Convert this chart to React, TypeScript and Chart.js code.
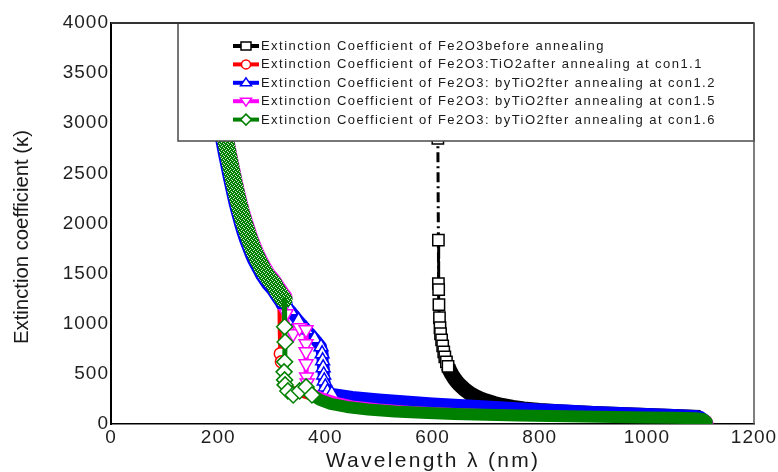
import { useEffect, useRef } from "react";
import { Chart, registerables } from "chart.js";

Chart.register(...registerables);

// Axis ticks
const xTicks = [0, 200, 400, 600, 800, 1000, 1200];
const yTicks = [0, 500, 1000, 1500, 2000, 2500, 3000, 3500, 4000];

// Series labels
const labelBefore = "Extinction Coefficient of Fe2O3before annealing";
const labelCon11 = "Extinction Coefficient of Fe2O3:TiO2after annealing at con1.1";
const labelCon12 = "Extinction Coefficient of Fe2O3: byTiO2fter annealing at con1.2";
const labelCon15 = "Extinction Coefficient of Fe2O3: byTiO2fter annealing at con1.5";
const labelCon16 = "Extinction Coefficient of Fe2O3: byTiO2fter annealing at con1.6";

// Fe2O3 before annealing
const beforeWl = [606, 608, 609, 610, 611, 611, 611.5, 612, 613, 614, 615, 617, 619, 621, 623, 626, 629, 632, 636, 640, 645, 650, 660, 670, 680, 690, 700, 715, 730, 750, 770, 800, 850, 900, 950, 1000, 1050, 1100];
const beforeK = [6000, 4200, 3400, 2850, 1835, 1400, 1340, 1190, 1060, 960, 900, 840, 780, 720, 670, 620, 575, 535, 495, 460, 425, 395, 345, 305, 275, 250, 230, 205, 185, 165, 150, 135, 118, 105, 95, 85, 75, 65];

// con 1.1
const con11Wl = [170, 180, 185, 190, 195, 200, 205, 210, 215, 220, 225, 230, 235, 240, 245, 250, 255, 260, 265, 270, 275, 280, 285, 290, 295, 300, 305, 310, 312, 314, 315, 315, 316, 318, 322, 330, 345, 370, 400, 450, 500, 600, 700, 800, 900, 1000, 1100, 1110];
const con11K = [4850, 4230, 3980, 3730, 3510, 3310, 3130, 2960, 2820, 2680, 2550, 2420, 2300, 2190, 2090, 2000, 1920, 1840, 1770, 1700, 1640, 1590, 1540, 1500, 1460, 1430, 1395, 1355, 1320, 1300, 1100, 900, 700, 620, 500, 400, 330, 290, 240, 190, 160, 120, 100, 88, 78, 68, 58, 30];

// con 1.2
const con12Wl = [170, 180, 185, 190, 195, 200, 205, 210, 215, 220, 225, 230, 235, 240, 245, 250, 255, 260, 265, 270, 275, 280, 285, 290, 295, 300, 305, 310, 315, 320, 323, 335, 350, 365, 380, 392, 394, 395, 396, 397, 398, 400, 404, 412, 425, 450, 500, 550, 600, 650, 700, 750, 800, 850, 900, 950, 1000, 1050, 1090, 1100, 1108];
const con12K = [4650, 4080, 3830, 3590, 3370, 3180, 3000, 2850, 2710, 2580, 2450, 2330, 2210, 2110, 2010, 1920, 1840, 1770, 1700, 1640, 1590, 1540, 1490, 1450, 1410, 1380, 1350, 1310, 1270, 1230, 1200, 1130, 1030, 940, 850, 770, 700, 630, 560, 490, 430, 370, 320, 300, 290, 270, 245, 225, 205, 190, 175, 160, 145, 135, 120, 110, 100, 90, 80, 70, 40];

// con 1.5
const con15Wl = [170, 180, 185, 190, 195, 200, 205, 210, 215, 220, 225, 230, 235, 240, 245, 250, 255, 260, 265, 270, 275, 280, 285, 290, 295, 300, 305, 310, 315, 320, 324, 327, 330, 340, 352, 364, 364, 364, 364, 365, 366, 380, 400, 425, 450, 500, 560, 620, 680, 740, 800, 860, 920, 980, 1040, 1090, 1106, 1113, 1116];
const con15K = [4870, 4250, 4000, 3750, 3530, 3320, 3140, 2980, 2840, 2700, 2570, 2440, 2320, 2210, 2110, 2020, 1935, 1855, 1785, 1720, 1660, 1610, 1560, 1515, 1475, 1445, 1410, 1370, 1330, 1290, 1265, 1100, 940, 900, 960, 940, 800, 720, 600, 470, 410, 300, 260, 220, 190, 160, 135, 120, 108, 98, 90, 84, 78, 73, 68, 62, 55, 40, 10];

// con 1.6
const con16Wl = [170, 180, 185, 190, 195, 200, 205, 210, 215, 220, 225, 230, 235, 240, 245, 250, 255, 260, 265, 270, 275, 280, 285, 290, 295, 300, 305, 310, 315, 320, 323, 324, 324, 325, 324, 323, 324, 325, 330, 340, 352, 364, 375, 390, 410, 440, 480, 530, 580, 640, 700, 760, 820, 880, 940, 1000, 1050, 1090, 1105, 1112];
const con16K = [4800, 4200, 3950, 3700, 3480, 3280, 3100, 2940, 2800, 2660, 2530, 2400, 2280, 2170, 2070, 1980, 1900, 1820, 1750, 1690, 1630, 1580, 1530, 1490, 1450, 1420, 1390, 1340, 1300, 1260, 1240, 1100, 970, 818, 620, 520, 440, 390, 330, 290, 330, 370, 290, 240, 200, 170, 145, 125, 112, 100, 92, 85, 80, 75, 70, 66, 62, 58, 50, 20];

const BLACK = "#000000";
const RED = "#ff0000";
const BLUE = "#0000ff";
const MAGENTA = "#ff00ff";
const GREEN = "#008000";
const FONT = "'Liberation Sans', Arial, sans-serif";

const toPoints = (wl: number[], k: number[]) => wl.map((x, i) => ({ x, y: k[i] }));

type MarkerKind = "rect" | "circle" | "triangle" | "triangleDown" | "rectRot";

const legendEntries: { label: string; color: string; marker: MarkerKind }[] = [
  { label: labelBefore, color: BLACK, marker: "rect" },
  { label: labelCon11, color: RED, marker: "circle" },
  { label: labelCon12, color: BLUE, marker: "triangle" },
  { label: labelCon15, color: MAGENTA, marker: "triangleDown" },
  { label: labelCon16, color: GREEN, marker: "rectRot" },
];

function drawMarker(ctx: CanvasRenderingContext2D, kind: MarkerKind, x: number, y: number, color: string) {
  ctx.beginPath();
  if (kind === "rect") {
    ctx.rect(x - 5, y - 4, 10, 8);
  } else if (kind === "circle") {
    ctx.arc(x, y, 4.5, 0, Math.PI * 2);
  } else if (kind === "triangle") {
    ctx.moveTo(x, y - 5);
    ctx.lineTo(x + 5.5, y + 3);
    ctx.lineTo(x - 5.5, y + 3);
    ctx.closePath();
  } else if (kind === "triangleDown") {
    ctx.moveTo(x, y + 5);
    ctx.lineTo(x + 5.5, y - 3);
    ctx.lineTo(x - 5.5, y - 3);
    ctx.closePath();
  } else {
    ctx.moveTo(x, y - 5.5);
    ctx.lineTo(x + 5.5, y);
    ctx.lineTo(x, y + 5.5);
    ctx.lineTo(x - 5.5, y);
    ctx.closePath();
  }
  ctx.fillStyle = "#ffffff";
  ctx.fill();
  ctx.lineWidth = 1.5;
  ctx.strokeStyle = color;
  ctx.stroke();
}

// speckled green used where the diamond markers pile up into a band
function makeHatch(): CanvasPattern | string {
  const c = document.createElement("canvas");
  c.width = 4;
  c.height = 4;
  const g = c.getContext("2d");
  if (!g) return GREEN;
  g.fillStyle = GREEN;
  g.fillRect(0, 0, 4, 4);
  g.fillStyle = "rgba(255,255,255,0.8)";
  g.fillRect(0, 0, 1, 1);
  g.fillRect(2, 1, 1, 1);
  g.fillRect(1, 2, 1, 1);
  g.fillRect(3, 3, 1, 1);
  const p = g.createPattern(c, "repeat");
  return p || GREEN;
}

const textSpacingPlugin = {
  id: "textSpacing",
  beforeDraw(chart: any) {
    chart.ctx.letterSpacing = "1px";
  },
  afterDraw(chart: any) {
    chart.ctx.letterSpacing = "0px";
  },
};

const framePlugin = {
  id: "frameLegendTitles",
  afterDatasetsDraw(chart: any) {
    const ctx: CanvasRenderingContext2D = chart.ctx;
    const { left, top, right } = chart.chartArea;
    ctx.save();
    (ctx as any).letterSpacing = "0px";

    // legend box over the data
    const bx = left + 67;
    const bh = 118;
    ctx.fillStyle = "#ffffff";
    ctx.fillRect(bx, top, right - bx, bh);
    ctx.strokeStyle = "#4a4a4a";
    ctx.lineWidth = 1.5;
    ctx.strokeRect(bx, top, right - bx, bh);

    legendEntries.forEach((e, i) => {
      const y = top + 23 + i * 18.4;
      ctx.strokeStyle = e.color;
      ctx.lineWidth = 4;
      ctx.beginPath();
      ctx.moveTo(left + 122, y);
      ctx.lineTo(left + 148, y);
      ctx.stroke();
      drawMarker(ctx, e.marker, left + 135, y, e.color);
      ctx.fillStyle = "#1a1a1a";
      ctx.font = `13px ${FONT}`;
      (ctx as any).letterSpacing = "1.45px";
      ctx.textAlign = "left";
      ctx.textBaseline = "middle";
      ctx.fillText(e.label, left + 150, y + 0.5);
      (ctx as any).letterSpacing = "0px";
    });
    ctx.restore();
  },
  afterDraw(chart: any) {
    const ctx: CanvasRenderingContext2D = chart.ctx;
    const { left, top, right, bottom } = chart.chartArea;
    ctx.save();
    (ctx as any).letterSpacing = "0px";

    // top and right frame
    ctx.strokeStyle = "#333333";
    ctx.lineWidth = 2;
    ctx.beginPath();
    ctx.moveTo(left, top);
    ctx.lineTo(right, top);
    ctx.stroke();
    ctx.strokeStyle = "#555555";
    ctx.lineWidth = 1.5;
    ctx.beginPath();
    ctx.moveTo(right, top);
    ctx.lineTo(right, bottom);
    ctx.stroke();

    // axis titles
    ctx.fillStyle = "#1a1a1a";
    ctx.font = `21px ${FONT}`;
    ctx.textAlign = "center";
    ctx.textBaseline = "middle";
    ctx.save();
    ctx.translate(22, 237);
    ctx.rotate(-Math.PI / 2);
    ctx.fillText("Extinction coefficient (\u03BA)", 0, 0, 214);
    ctx.restore();

    (ctx as any).letterSpacing = "2.3px";
    ctx.textBaseline = "alphabetic";
    ctx.fillText("Wavelength \u03BB (nm)", 433, 467);
    ctx.restore();
  },
};

export default function App() {
  const canvasRef = useRef<HTMLCanvasElement | null>(null);

  useEffect(() => {
    const canvas = canvasRef.current;
    if (!canvas) return;
    const hatch = makeHatch();

    const wl0 = (s: any) => Math.min(s.p0.parsed.x, s.p1.parsed.x);
    const wl1 = (s: any) => Math.max(s.p0.parsed.x, s.p1.parsed.x);
    const kmin = (s: any) => Math.min(s.p0.parsed.y, s.p1.parsed.y);

    const common = {
      showLine: true,
      tension: 0,
      pointBackgroundColor: "#ffffff",
      pointBorderWidth: 1.5,
      pointHoverRadius: 0,
      borderJoinStyle: "round" as const,
      clip: 0,
    };

    const chart = new Chart(canvas, {
      type: "scatter",
      data: {
        datasets: [
          {
            ...common,
            label: labelBefore,
            data: toPoints(beforeWl, beforeK),
            borderColor: BLACK,
            pointBorderColor: BLACK,
            pointStyle: "rect",
            borderWidth: 3,
            order: 5,
            pointRadius: (c: any) => (c.raw && c.raw.y >= 560 && c.raw.y <= 3000 ? 8 : 0),
            segment: {
              borderWidth: (s: any) => (Math.max(s.p0.parsed.y, s.p1.parsed.y) < 600 ? 15 : 3),
              borderDash: (s: any) => (Math.max(s.p0.parsed.y, s.p1.parsed.y) < 600 ? [] : [10, 4, 2, 4]),
            },
          },
          {
            ...common,
            label: labelCon11,
            data: toPoints(con11Wl, con11K),
            borderColor: RED,
            pointBorderColor: RED,
            pointStyle: "circle",
            borderCapStyle: "round",
            order: 4,
            pointRadius: (c: any) =>
              c.raw && c.raw.x >= 312 && c.raw.x <= 325 && c.raw.y >= 550 && c.raw.y <= 750 ? 6 : 0,
            segment: {
              borderWidth: (s: any) => (wl1(s) <= 314 ? 15 : wl0(s) < 345 ? 4 : 10),
            },
          },
          {
            ...common,
            label: labelCon12,
            data: toPoints(con12Wl, con12K),
            borderColor: BLUE,
            pointBorderColor: BLUE,
            pointStyle: "triangle",
            borderCapStyle: "round",
            order: 3,
            pointRadius: (c: any) =>
              c.raw && c.raw.x >= 330 && c.raw.x <= 412 && c.raw.y >= 300 && c.raw.y <= 1150 ? 8 : 0,
            segment: {
              borderWidth: (s: any) => (wl1(s) <= 323 ? 17 : 12),
            },
          },
          {
            ...common,
            label: labelCon15,
            data: toPoints(con15Wl, con15K),
            borderColor: MAGENTA,
            pointBorderColor: MAGENTA,
            pointStyle: "triangle",
            pointRotation: 180,
            borderCapStyle: "round",
            order: 2,
            pointRadius: (c: any) =>
              c.raw && c.raw.x >= 326 && c.raw.x <= 370 && c.raw.y >= 400 && c.raw.y <= 1150 ? 8 : 0,
            segment: {
              borderWidth: (s: any) => (wl1(s) <= 324 ? 16 : wl0(s) < 380 ? 5 : 9),
            },
          },
          {
            ...common,
            label: labelCon16,
            data: toPoints(con16Wl, con16K),
            borderColor: GREEN,
            pointBorderColor: GREEN,
            pointStyle: "rectRot",
            borderCapStyle: "round",
            order: 1,
            pointRadius: (c: any) =>
              c.raw && c.raw.x >= 322 && c.raw.x <= 380 && c.raw.y < 1000 ? 8 : 0,
            segment: {
              borderWidth: (s: any) => (kmin(s) >= 1240 ? 17 : wl0(s) < 335 ? 5 : 12),
              borderColor: (s: any) => (kmin(s) >= 1240 ? hatch : GREEN),
            },
          },
        ] as any,
      },
      options: {
        responsive: false,
        animation: false,
        devicePixelRatio: 1,
        events: [],
        layout: { padding: { left: 0, top: 23, right: 24, bottom: 0 } },
        plugins: {
          legend: { display: false },
          tooltip: { enabled: false },
        },
        scales: {
          x: {
            type: "linear",
            position: "bottom",
            min: 0,
            max: 1200,
            afterBuildTicks: (s: any) => {
              s.ticks = xTicks.map((v) => ({ value: v }));
            },
            afterFit: (s: any) => {
              s.height = 48;
            },
            grid: { display: false, drawTicks: false },
            border: { display: true, color: "#000000", width: 1.5 },
            ticks: {
              padding: 2,
              color: "#1f1f1f",
              font: { family: FONT, size: 19 },
              maxRotation: 0,
              callback: (v: any) => String(v),
            },
          },
          y: {
            type: "linear",
            min: 0,
            max: 4000,
            afterBuildTicks: (s: any) => {
              s.ticks = yTicks.map((v) => ({ value: v }));
            },
            afterFit: (s: any) => {
              s.width = 111;
            },
            grid: { display: false, drawTicks: false },
            border: { display: true, color: "#000000", width: 2 },
            ticks: {
              padding: 2,
              color: "#1f1f1f",
              font: { family: FONT, size: 19 },
              callback: (v: any) => String(v),
            },
          },
        },
      },
      plugins: [textSpacingPlugin, framePlugin],
    } as any);

    return () => chart.destroy();
  }, []);

  return (
    <div style={{ position: "fixed", left: 0, top: 0, width: 778, height: 472, background: "#ffffff" }}>
      <canvas ref={canvasRef} width={778} height={472} style={{ display: "block" }} />
    </div>
  );
}
